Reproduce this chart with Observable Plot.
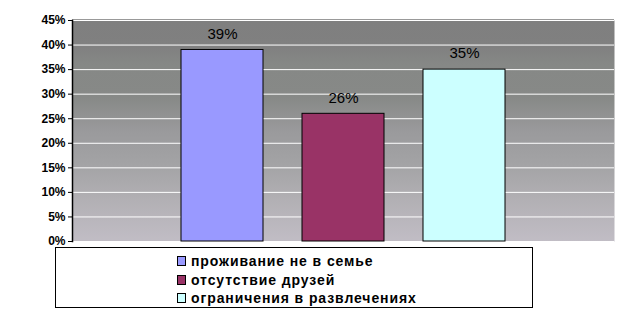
<!DOCTYPE html>
<html>
<head>
<meta charset="utf-8">
<script src="https://cdn.jsdelivr.net/npm/d3@7"></script>
<script src="https://cdn.jsdelivr.net/npm/@observablehq/plot@0.6"></script>
<style>
  html, body { margin: 0; padding: 0; background: #fff; }
  #wrap { position: relative; width: 638px; height: 314px; font-family: "Liberation Sans", Arial, sans-serif; }
  #legend { position: absolute; left: 55px; top: 247px; width: 476px; height: 59px; border: 1px solid #000; background: #fff; }
  .item { position: absolute; left: 121px; height: 18px; display: flex; align-items: center; font-weight: bold; font-size: 14px; letter-spacing: 0.9px; color: #000; white-space: nowrap; }
  .sw { width: 7px; height: 8px; border: 1px solid #000; margin-right: 5px; }
</style>
</head>
<body>
<div id="wrap"></div>
<script>
const series = ["проживание не в семье", "отсутствие друзей", "ограничения в развлечениях"];
const values = [0.39, 0.26, 0.35];
const colors = ["#9999ff", "#993366", "#ccffff"];
const yTicks = [0, 0.05, 0.10, 0.15, 0.20, 0.25, 0.30, 0.35, 0.40, 0.45];

const data = series.map((s, i) => ({series: s, value: values[i]}));

const gradient = () => {
  const defs = d3.create("svg:defs");
  const g = defs.append("linearGradient").attr("id", "bg").attr("x1", 0).attr("y1", 0).attr("x2", 0).attr("y2", 1);
  [[0, "#7f7f7f"], [0.12, "#808080"], [0.2, "#868886"], [0.35, "#878987"], [0.5, "#9a9a9c"], [0.65, "#a3a3a5"], [0.8, "#b1afb3"], [1, "#c1bdc5"]]
    .forEach(([o, c]) => g.append("stop").attr("offset", o).attr("stop-color", c));
  return defs.node();
};

const chart = Plot.plot({
  width: 638,
  height: 314,
  marginTop: 20,
  marginBottom: 73,
  marginLeft: 72,
  marginRight: 24,
  style: {fontFamily: "'Liberation Sans', Arial, sans-serif", background: "transparent"},
  x: {domain: series, paddingInner: 0.322, paddingOuter: 0.9, axis: null},
  y: {domain: [0, 0.45], label: null},
  color: {domain: series, range: colors},
  marks: [
    gradient,
    Plot.frame({fill: "url(#bg)", stroke: null}),
    Plot.gridY(yTicks, {stroke: "#fff", strokeOpacity: 1, strokeWidth: 1}),
    Plot.ruleY([0.45], {dy: -1, stroke: "#999", strokeWidth: 1}),
    Plot.barY(data, {x: "series", y: "value", fill: "series", stroke: "#000", strokeWidth: 1}),
    Plot.text(data, {x: "series", y: "value", text: d => d3.format(".0%")(d.value), dy: -16, fontSize: 15, fill: "#000"}),
    Plot.axisY({ticks: yTicks, tickFormat: d3.format(".0%"), label: null, tickSize: 4, tickPadding: 3, fontSize: 12, fontWeight: "bold", stroke: "#000", color: "#000"}),
    Plot.frame({anchor: "left", stroke: "#000", strokeWidth: 1.5})
  ]
});
document.getElementById("wrap").appendChild(chart);

const legend = document.createElement("div");
legend.id = "legend";
series.forEach((s, i) => {
  const it = document.createElement("div");
  it.className = "item";
  it.style.top = (4 + i * 18.5) + "px";
  const sw = document.createElement("span");
  sw.className = "sw";
  sw.style.background = colors[i];
  it.appendChild(sw);
  it.appendChild(document.createTextNode(s));
  legend.appendChild(it);
});
document.getElementById("wrap").appendChild(legend);
</script>
</body>
</html>
